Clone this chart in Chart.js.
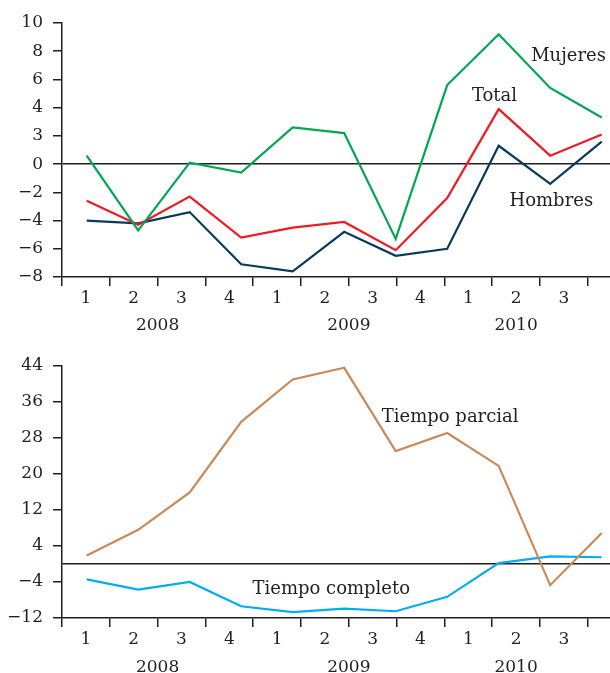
<!DOCTYPE html>
<html>
<head>
<meta charset="utf-8">
<script src="https://cdn.jsdelivr.net/npm/chart.js@4.4.1/dist/chart.umd.min.js"></script>
<style>
  html, body { margin: 0; padding: 0; background: #ffffff; }
  #wrap { position: relative; width: 610px; height: 673px; overflow: hidden; }
  #c1 { position: absolute; left: 0; top: 0; }
  #c2 { position: absolute; left: 0; top: 340px; }
</style>
</head>
<body>
<div id="wrap">
  <canvas id="c1" width="610" height="340"></canvas>
  <canvas id="c2" width="610" height="333"></canvas>
</div>
<script>
// ---- data ----
const quarters = ['1', '2', '3', '4', '1', '2', '3', '4', '1', '2', '3'];
const years = ['2008', '2009', '2010'];
const yearCenters = [2, 6, 9.5];

const mujeres  = [0.6, -4.7, 0.1, -0.6, 2.6, 2.2, -5.3, 5.6, 9.2, 5.4, 3.3];
const total    = [-2.6, -4.3, -2.3, -5.2, -4.5, -4.1, -6.1, -2.4, 3.9, 0.6, 2.1];
const hombres  = [-4.0, -4.2, -3.4, -7.1, -7.6, -4.8, -6.5, -6.0, 1.3, -1.4, 1.6];

const parcial  = [1.9, 7.6, 15.9, 31.6, 41.0, 43.6, 25.1, 29.1, 21.8, -4.7, 6.9];
const completo = [-3.4, -5.7, -4.0, -9.4, -10.7, -9.9, -10.5, -7.3, 0.2, 1.7, 1.5];

const topTickValues = [10, 8, 6, 4, 2, 0, -2, -4, -6, -8];
const topTickLabels = ['10', '8', '6', '4', '3', '0', '\u22122', '\u22124', '\u22126', '\u22128'];
const botTickValues = [44, 36, 28, 20, 12, 4, 0, -4, -12];
const botTickLabels = ['44', '36', '28', '20', '12', '4', '', '\u22124', '\u221212'];

const topNotes = [
  { text: 'Mujeres', x: 8.63, y: 7.33 },
  { text: 'Total', x: 7.48, y: 4.44 },
  { text: 'Hombres', x: 8.21, y: -2.96 }
];
const botNotes = [
  { text: 'Tiempo parcial', x: 5.73, y: 31.6 },
  { text: 'Tiempo completo', x: 3.22, y: -6.58 }
];

// ---- styling ----
const INK = '#231f20';
Chart.defaults.font.family = 'DejaVu Serif';
Chart.defaults.font.size = 17;
Chart.defaults.color = INK;

const notesPlugin = {
  id: 'notes',
  afterDatasetsDraw(chart, args, opts) {
    const ctx = chart.ctx;
    ctx.save();
    ctx.font = '18px "DejaVu Serif"';
    ctx.fillStyle = INK;
    ctx.textAlign = 'left';
    ctx.textBaseline = 'alphabetic';
    (opts.items || []).forEach(n => {
      ctx.fillText(n.text, chart.scales.x.getPixelForValue(n.x), chart.scales.y.getPixelForValue(n.y));
    });
    ctx.restore();
  }
};

function pts(arr) { return arr.map((v, i) => ({ x: i, y: v })); }

function buildOptions(yMin, yMax, tickValues, tickLabels, notes, padTop, qAxisH, yearAxisH) {
  return {
    responsive: false,
    animation: false,
    devicePixelRatio: 1,
    layout: { padding: { top: padTop, left: 0, right: 0, bottom: 0 } },
    plugins: { legend: { display: false }, tooltip: { enabled: false }, notes: { items: notes } },
    elements: { point: { radius: 0 }, line: { tension: 0, borderWidth: 2.2 } },
    scales: {
      x: {
        type: 'linear', display: false,
        min: -0.4796, max: 10.161
      },
      x2: {
        type: 'linear', position: 'bottom', bounds: 'data',
        min: 0, max: 11.464,
        afterBuildTicks: s => { s.ticks = quarters.map((q, i) => ({ value: i + 0.5 })); },
        afterFit: s => { s.height = qAxisH; },
        grid: { offset: true, drawOnChartArea: false, drawTicks: true, tickLength: 9, tickColor: INK, lineWidth: 1.5, color: INK },
        border: { display: true, color: INK, width: 1.5 },
        ticks: { autoSkip: false, maxRotation: 0, padding: 2, callback: (v, i) => quarters[i] }
      },
      x3: {
        type: 'linear', position: 'bottom', bounds: 'data',
        min: 0, max: 11.464,
        afterBuildTicks: s => { s.ticks = yearCenters.map(v => ({ value: v })); },
        afterFit: s => { s.height = yearAxisH; },
        grid: { display: false },
        border: { display: false },
        ticks: { autoSkip: false, maxRotation: 0, padding: 4, callback: (v, i) => years[i] }
      },
      y: {
        type: 'linear', min: yMin, max: yMax, bounds: 'data',
        afterBuildTicks: s => { s.ticks = tickValues.map(v => ({ value: v })); },
        afterFit: s => { s.width = 62; },
        grid: {
          drawTicks: true, tickLength: 9, lineWidth: 1.5,
          color: c => (c.tick && c.tick.value === 0) ? INK : 'rgba(0,0,0,0)',
          tickColor: c => (c.tick && c.tick.value === 0 && tickLabels[c.index] === '') ? 'rgba(0,0,0,0)' : INK
        },
        border: { display: true, color: INK, width: 1.5 },
        ticks: { autoSkip: false, padding: 10, callback: (v, i) => tickLabels[i] }
      }
    }
  };
}

new Chart(document.getElementById('c1'), {
  type: 'line',
  data: {
    datasets: [
      { label: 'Mujeres', data: pts(mujeres), borderColor: '#00a651', xAxisID: 'x', yAxisID: 'y' },
      { label: 'Total', data: pts(total), borderColor: '#ed1c24', xAxisID: 'x', yAxisID: 'y' },
      { label: 'Hombres', data: pts(hombres), borderColor: '#0a3a5a', xAxisID: 'x', yAxisID: 'y' }
    ]
  },
  options: buildOptions(-8, 10, topTickValues, topTickLabels, topNotes, 23, 26, 37),
  plugins: [notesPlugin]
});

new Chart(document.getElementById('c2'), {
  type: 'line',
  data: {
    datasets: [
      { label: 'Tiempo parcial', data: pts(parcial), borderColor: '#c98a5b', xAxisID: 'x', yAxisID: 'y' },
      { label: 'Tiempo completo', data: pts(completo), borderColor: '#00aeef', xAxisID: 'x', yAxisID: 'y' }
    ]
  },
  options: buildOptions(-12, 44, botTickValues, botTickLabels, botNotes, 26, 27, 28),
  plugins: [notesPlugin]
});
</script>
</body>
</html>
